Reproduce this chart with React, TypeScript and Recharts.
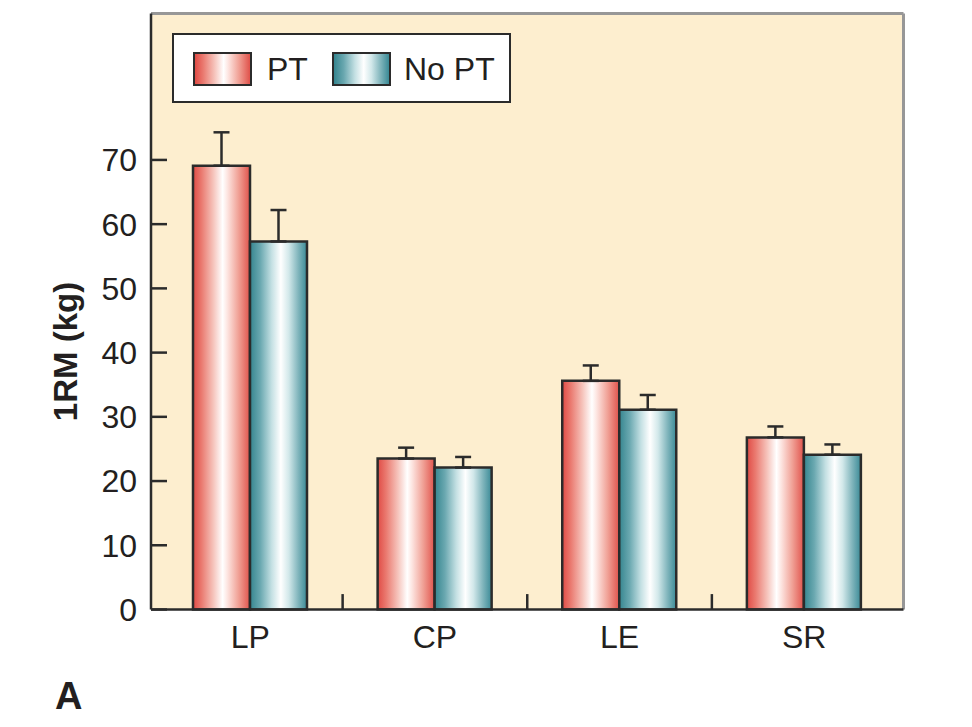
import {
  BarChart,
  Bar,
  XAxis,
  YAxis,
  CartesianGrid,
  ErrorBar,
  Legend,
  ReferenceLine,
} from 'recharts';

const categories = ['LP', 'CP', 'LE', 'SR'];
const ptMeans = [69.1, 23.5, 35.6, 26.8];
const ptErrors = [5.2, 1.7, 2.4, 1.7];
const noPtMeans = [57.3, 22.1, 31.1, 24.1];
const noPtErrors = [4.9, 1.65, 2.3, 1.6];
const yTicks = [0, 10, 20, 30, 40, 50, 60, 70];
// x-axis tick marks sit at the start of every category after the first
const boundaryCategories = categories.slice(1);

const data = categories.map((name, i) => ({
  name,
  pt: ptMeans[i],
  ptErr: [0, ptErrors[i]],
  noPt: noPtMeans[i],
  noPtErr: [0, noPtErrors[i]],
}));

const FONT = '"Liberation Sans", Arial, Helvetica, sans-serif';
const INK = '#231f20';
const LINE = '#2b2b2b';
const FRAME = '#979797';
const Y_MAX = 92.8;
const TICK_LEN = 2.4; // in y units, ~16px

const redGradient =
  'linear-gradient(to right, #e04b45 0%, #ea7a70 15%, #f6c5bd 36%, #ffffff 52%, #fde6e2 60%, #f0a095 80%, #e0524b 100%)';
const tealGradient =
  'linear-gradient(to right, #35858f 0%, #6aa8b0 18%, #c4e0e3 38%, #ffffff 54%, #d2e8ea 68%, #7fb4bb 85%, #3a8a96 100%)';

function YLabel(props: any) {
  const vb = props.viewBox || { x: 0, y: 0, width: 0, height: 0 };
  const cx = 77;
  const cy = vb.y + vb.height / 2 + 40;
  return (
    <text
      x={cx}
      y={cy}
      transform={`rotate(-90, ${cx}, ${cy})`}
      textAnchor="middle"
      fontFamily={FONT}
      fontSize={33}
      fontWeight="bold"
      fill={INK}
    >
      1RM (kg)
    </text>
  );
}

function LegendBox() {
  const swatch = (bg: string, left: number, width: number) => (
    <div
      style={{
        position: 'absolute',
        left,
        top: 17,
        width,
        height: 34,
        boxSizing: 'border-box',
        border: `2px solid ${LINE}`,
        background: bg,
      }}
    />
  );
  const label = (text: string, left: number) => (
    <div
      style={{
        position: 'absolute',
        left,
        top: 16,
        lineHeight: '36px',
        fontSize: 32,
        fontFamily: FONT,
        color: INK,
        whiteSpace: 'nowrap',
      }}
    >
      {text}
    </div>
  );
  return (
    <div
      style={{
        position: 'relative',
        width: 339,
        height: 70,
        boxSizing: 'border-box',
        border: `2.5px solid ${LINE}`,
        background: '#ffffff',
      }}
    >
      {swatch(redGradient, 19, 59)}
      {label('PT', 93)}
      {swatch(tealGradient, 158, 59)}
      {label('No PT', 230)}
    </div>
  );
}

export default function App() {
  return (
    <div style={{ position: 'absolute', left: 0, top: 0, width: 972, height: 727, background: '#fff' }}>
      <BarChart
        width={972}
        height={727}
        data={data}
        margin={{ top: 13.5, right: 68.5, bottom: 57.5, left: 0 }}
        barGap={0}
        barSize={57}
      >
        <defs>
          <linearGradient id="ptGrad" x1="0" y1="0" x2="1" y2="0">
            <stop offset="0%" stopColor="#e04b45" />
            <stop offset="15%" stopColor="#ea7a70" />
            <stop offset="36%" stopColor="#f6c5bd" />
            <stop offset="52%" stopColor="#ffffff" />
            <stop offset="60%" stopColor="#fde6e2" />
            <stop offset="80%" stopColor="#f0a095" />
            <stop offset="100%" stopColor="#e0524b" />
          </linearGradient>
          <linearGradient id="noPtGrad" x1="0" y1="0" x2="1" y2="0">
            <stop offset="0%" stopColor="#35858f" />
            <stop offset="18%" stopColor="#6aa8b0" />
            <stop offset="38%" stopColor="#c4e0e3" />
            <stop offset="54%" stopColor="#ffffff" />
            <stop offset="68%" stopColor="#d2e8ea" />
            <stop offset="85%" stopColor="#7fb4bb" />
            <stop offset="100%" stopColor="#3a8a96" />
          </linearGradient>
        </defs>
        <CartesianGrid
          fill="#fdeecf"
          stroke={FRAME}
          strokeWidth={3}
          horizontal={false}
          vertical
          verticalCoordinatesGenerator={({ offset }: any) => [offset.left + offset.width]}
        />
        <XAxis
          dataKey="name"
          height={60}
          padding={{ left: 7, right: 7 }}
          tickSize={0}
          tickMargin={15.5}
          tickLine={false}
          axisLine={{ stroke: LINE, strokeWidth: 2.5 }}
          tick={{ fontSize: 32, fontFamily: FONT, fill: INK }}
        />
        <YAxis
          width={151}
          domain={[0, Y_MAX]}
          ticks={yTicks}
          interval={0}
          tickSize={-16}
          tickMargin={30}
          axisLine={{ stroke: LINE, strokeWidth: 2.5 }}
          tickLine={{ stroke: LINE, strokeWidth: 2.5 }}
          tick={{ fontSize: 32, fontFamily: FONT, fill: INK }}
          label={<YLabel />}
        />
        <ReferenceLine y={Y_MAX} stroke={FRAME} strokeWidth={3} />
        {boundaryCategories.map((c) => (
          <ReferenceLine
            key={c}
            position="start"
            segment={[
              { x: c, y: 0 },
              { x: c, y: TICK_LEN },
            ]}
            stroke={LINE}
            strokeWidth={2.5}
          />
        ))}
        <Legend
          verticalAlign="middle"
          align="center"
          layout="horizontal"
          wrapperStyle={{ left: 172, top: 33, width: 339, height: 70 }}
          content={() => <LegendBox />}
        />
        <Bar dataKey="pt" name="PT" fill="url(#ptGrad)" stroke={LINE} strokeWidth={2.5} isAnimationActive={false}>
          <ErrorBar dataKey="ptErr" width={8} stroke={LINE} strokeWidth={2.5} isAnimationActive={false} />
        </Bar>
        <Bar dataKey="noPt" name="No PT" fill="url(#noPtGrad)" stroke={LINE} strokeWidth={2.5} isAnimationActive={false}>
          <ErrorBar dataKey="noPtErr" width={8} stroke={LINE} strokeWidth={2.5} isAnimationActive={false} />
        </Bar>
      </BarChart>
      <div
        style={{
          position: 'absolute',
          left: 55,
          top: 678,
          fontFamily: FONT,
          fontSize: 38,
          fontWeight: 'bold',
          lineHeight: '37px',
          color: INK,
        }}
      >
        A
      </div>
    </div>
  );
}
